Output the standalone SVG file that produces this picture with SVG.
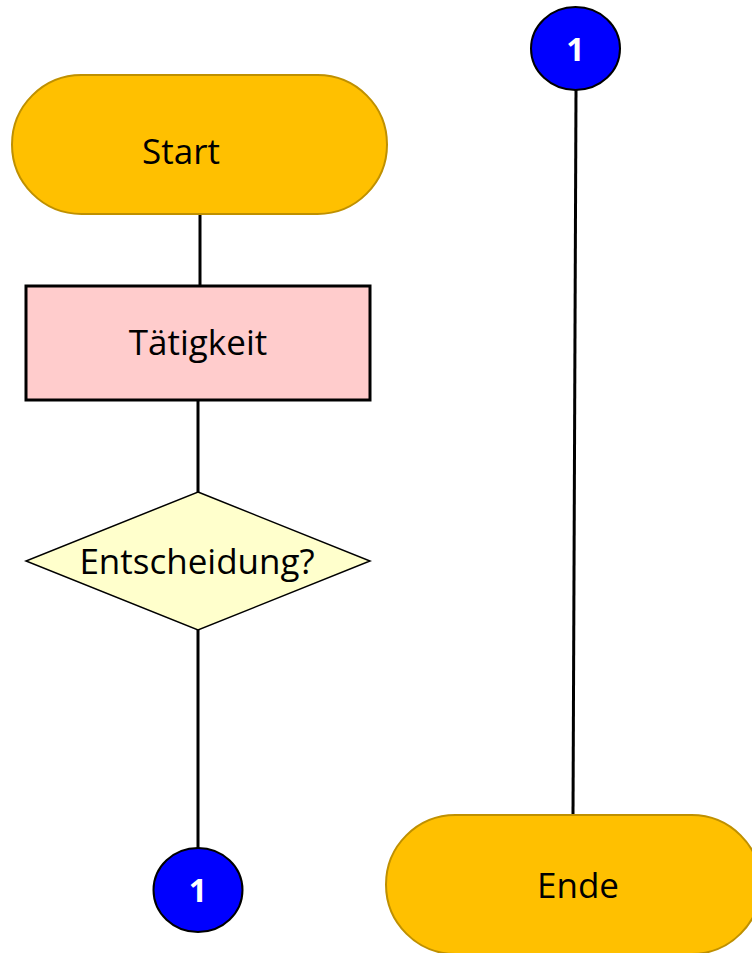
<svg xmlns="http://www.w3.org/2000/svg" width="752" height="953" viewBox="0 0 752 953">
<style>
.term{fill:#FFC000;stroke:#BF9000;stroke-width:2}
.proc{fill:#FFCCCC;stroke:#000;stroke-width:3}
.dec{fill:#FFFFCC;stroke:#000;stroke-width:1.5}
.conn{fill:#0000FF;stroke:#000;stroke-width:2}
.lbl{font-family:"Open Sans","Liberation Sans",sans-serif;font-size:35px;fill:#000;text-anchor:middle}
.num{font-family:"Open Sans","Liberation Sans",sans-serif;font-size:32px;font-weight:bold;fill:#fff;text-anchor:middle}
.edge{stroke:#000;stroke-width:3;fill:none}
</style>
<rect width="752" height="953" fill="#fff"/>
<g id="connectors">
<line class="edge" x1="200" y1="214" x2="200" y2="286"/>
<line class="edge" x1="198" y1="400" x2="198" y2="492"/>
<line class="edge" x1="198" y1="630" x2="198" y2="848"/>
<line class="edge" x1="576" y1="90" x2="573" y2="816"/>
</g>
<g id="start">
<rect class="term" x="12" y="75" width="375" height="139" rx="69.5" ry="69.5"/>
<text class="lbl" x="181" y="164">Start</text>
</g>
<g id="taetigkeit">
<rect class="proc" x="26" y="286" width="344" height="114"/>
<text class="lbl" x="198" y="355">Tätigkeit</text>
</g>
<g id="entscheidung">
<polygon class="dec" points="198,492 370,561 198,630 26,561"/>
<text class="lbl" x="197" y="574">Entscheidung?</text>
</g>
<g id="connector-bottom">
<ellipse class="conn" cx="198" cy="890" rx="44.5" ry="42"/>
<text class="num" x="198" y="902">1</text>
</g>
<g id="connector-top">
<ellipse class="conn" cx="575.5" cy="48.5" rx="44.5" ry="41.5"/>
<text class="num" x="575.5" y="61">1</text>
</g>
<g id="ende">
<rect class="term" x="386" y="815" width="375" height="139" rx="69.5" ry="69.5"/>
<text class="lbl" x="578" y="898">Ende</text>
</g>
</svg>
